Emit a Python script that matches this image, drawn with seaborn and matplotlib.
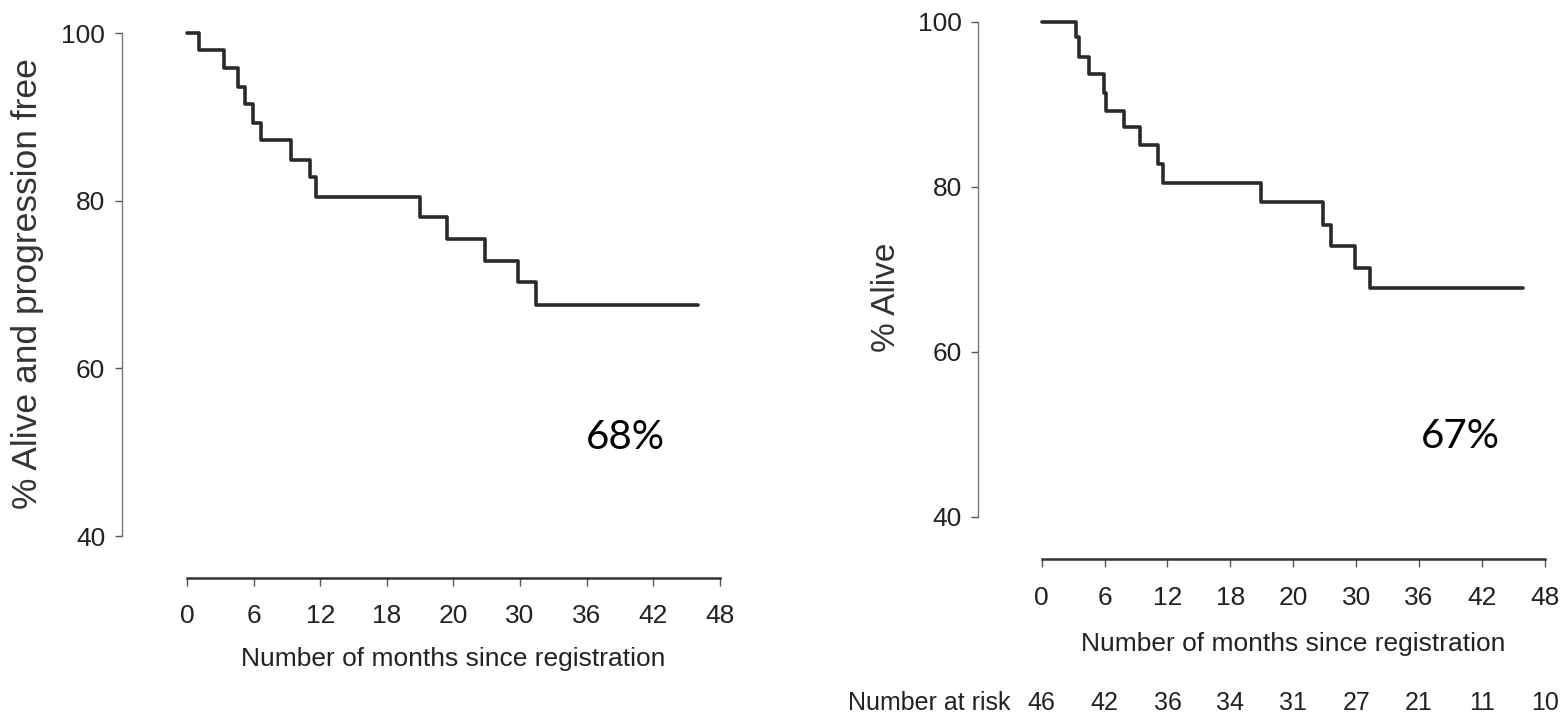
import numpy as np
import pandas as pd
import seaborn as sns
import matplotlib.pyplot as plt

# Progression-free survival (left)
pfs_months = [0, 1.05, 3.3, 4.6, 5.2, 5.9, 6.7, 9.4, 11.1, 11.6, 21.0, 23.4, 26.8, 29.8, 31.4, 46.0]
pfs_pct = [100, 98.0, 95.8, 93.6, 91.5, 89.3, 87.2, 84.9, 82.8, 80.5, 78.0, 75.4, 72.8, 70.3, 67.6, 67.6]

# Overall survival (right)
os_months = [0, 3.3, 3.6, 4.5, 5.95, 6.1, 7.9, 9.4, 11.1, 11.6, 20.9, 26.8, 27.6, 29.9, 31.3, 45.9]
os_pct = [100, 98.1, 95.7, 93.6, 91.3, 89.2, 87.2, 85.0, 82.8, 80.5, 78.1, 75.4, 72.8, 70.2, 67.7, 67.7]

xtick_pos = [0, 6, 12, 18, 24, 30, 36, 42, 48]
xtick_labels = ['0', '6', '12', '18', '20', '30', '36', '42', '48']
ytick_pos = [40, 60, 80, 100]
at_risk = [46, 42, 36, 34, 31, 27, 21, 11, 10]

sns.set_style('ticks')
plt.rcParams['font.family'] = ['Liberation Sans', 'DejaVu Sans']
ink = '#222222'

fig = plt.figure(figsize=(15.6, 7.18), dpi=100)
ax1 = fig.add_axes([0.0782, 0.195, 0.3833, 0.759])
ax2 = fig.add_axes([0.6272, 0.221, 0.3631, 0.7488])


def km_panel(ax, months, pct, xmin, ymin, ylabel, ylab_size, ylab_xy, xlab_y, pct_text, pct_xy):
	df = pd.DataFrame({'month': months, 'pct': pct})
	sns.lineplot(data=df, x='month', y='pct', drawstyle='steps-post', estimator=None,
				 sort=False, color='#2a2a2a', lw=2.6, ax=ax)
	for ln in ax.lines:
		ln.set_clip_on(False)
	ax.set_xlim(xmin, 48)
	ax.set_ylim(ymin, 100)
	for s in ['top', 'right']:
		ax.spines[s].set_visible(False)
	ax.spines['left'].set_bounds(40, 100)
	ax.spines['left'].set_color('#777777')
	ax.spines['left'].set_linewidth(1.0)
	ax.spines['bottom'].set_bounds(0, 48)
	ax.spines['bottom'].set_color('#333333')
	ax.spines['bottom'].set_linewidth(1.8)
	ax.set_xticks(xtick_pos)
	ax.set_xticklabels(xtick_labels)
	ax.set_yticks(ytick_pos)
	ax.set_yticklabels([str(v) for v in ytick_pos])
	ax.tick_params(axis='x', length=6, width=1.0, color='#555555', pad=13,
				   labelsize=19, labelcolor=ink)
	ax.tick_params(axis='y', length=5, width=1.0, color='#555555', pad=7,
				   labelsize=19, labelcolor=ink)
	ax.set_ylabel(ylabel, fontsize=ylab_size, color='#333333')
	ax.yaxis.set_label_coords(*ylab_xy)
	ax.set_xlabel('Number of months since registration', fontsize=19, color=ink)
	ax.xaxis.set_label_coords((24 - xmin) / (48 - xmin), xlab_y)
	ax.text(pct_xy[0], pct_xy[1], pct_text, fontsize=29, color='black',
			ha='center', va='center', family=['Lato', 'DejaVu Sans'])


km_panel(ax1, pfs_months, pfs_pct, -5.86, 35.0, '% Alive and progression free', 25.5,
		 (-0.13, 0.541), -0.127, '68%', (39.5, 51.7))
km_panel(ax2, os_months, os_pct, -6.03, 34.84, '% Alive', 24,
		 (-0.135, 0.488), -0.135, '67%', (39.9, 49.7))

# Number at risk row under the right panel
risk_y = -0.267
ax2.text(-3.0, risk_y, 'Number at risk', transform=ax2.get_xaxis_transform(),
		 ha='right', va='center', fontsize=18, color=ink)
for xp, n in zip(xtick_pos, at_risk):
	ax2.text(xp, risk_y, str(n), transform=ax2.get_xaxis_transform(),
			 ha='center', va='center', fontsize=18, color=ink)

fig.savefig('out.png', dpi=100)
